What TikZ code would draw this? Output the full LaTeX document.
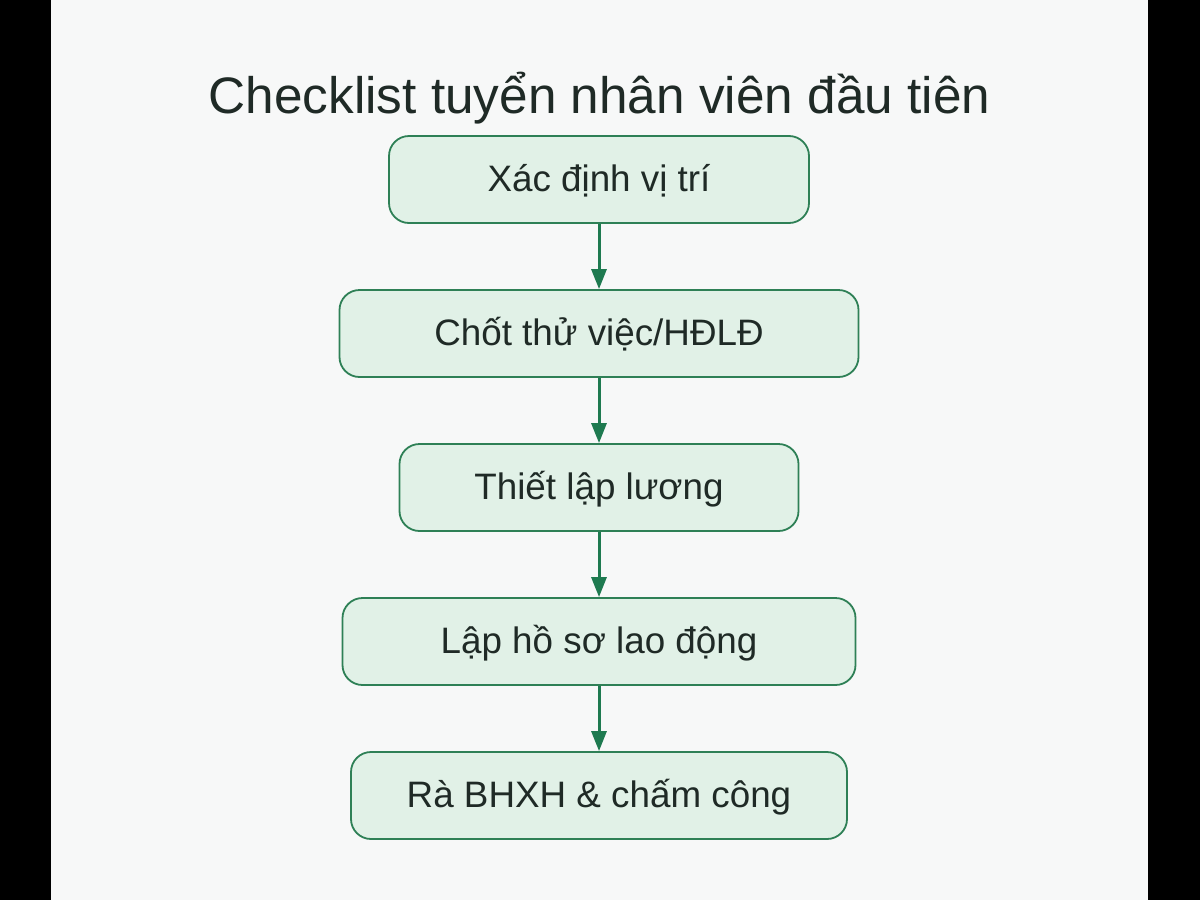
\documentclass[tikz,border=0pt]{standalone}
\usepackage{fontspec}
\setmainfont{Liberation Sans}
\usetikzlibrary{arrows.meta}
\definecolor{pagebg}{RGB}{247,248,248}
\definecolor{boxfill}{RGB}{225,241,231}
\definecolor{boxline}{RGB}{46,128,86}
\definecolor{flowgreen}{RGB}{30,122,80}
\definecolor{inktext}{RGB}{31,42,38}
\tikzset{
	stepbox/.style={
		rectangle,
		rounded corners=20pt,
		draw=boxline,
		line width=1.8pt,
		fill=boxfill,
		text=inktext,
		font=\fontsize{36.8}{42}\selectfont,
		minimum height=87pt,
		inner xsep=0pt,
		inner ysep=0pt,
		text height=29pt,
		text depth=6pt
	},
	flow/.style={
		-{Triangle[width=15pt, length=20pt]},
		line width=3pt,
		draw=flowgreen
	}
}
\begin{document}
\begin{tikzpicture}[x=1pt, y=-1pt]
\useasboundingbox (0, 0) rectangle (1200, 900);
\fill[black] (0, 0) rectangle (1200, 900);
\fill[pagebg] (51, 0) rectangle (1148, 900);

\node[anchor=base, text=inktext, font=\fontsize{51.3}{58}\selectfont] (title) at (599.5, 113) {Checklist tuyển nhân viên đầu tiên};

\foreach \txt/\boxw [count=\i] in {{Xác định vị trí}/420, {Chốt thử việc/HĐLĐ}/519, {Thiết lập lương}/399, {Lập hồ sơ lao động}/513, {Rà BHXH \& chấm công}/496} {
	\node[stepbox, minimum width=\boxw pt] (S\i) at (599, 25.5+154*\i) {\txt};
}
\foreach \i [evaluate=\i as \j using int(\i+1)] in {1, 2, 3, 4} {
	\draw[flow] (S\i) -- (S\j);
}
\end{tikzpicture}
\end{document}
